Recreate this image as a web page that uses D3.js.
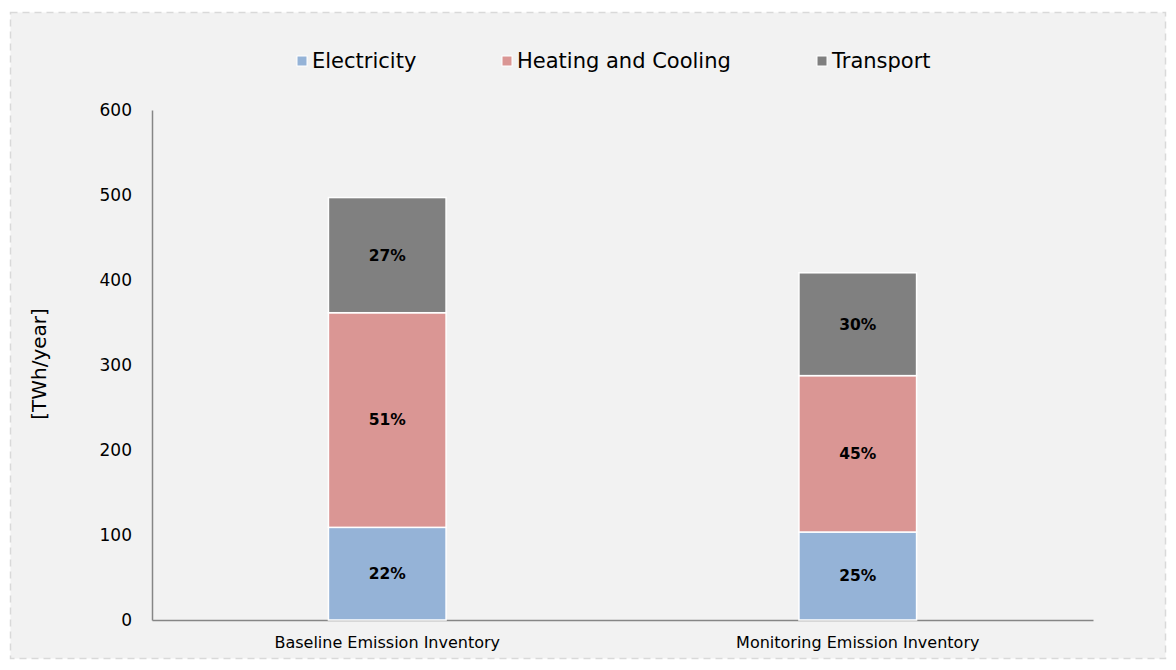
<!DOCTYPE html>
<html>
<head>
<meta charset="utf-8">
<script src="https://cdn.jsdelivr.net/npm/d3@7"></script>
<style>
  html, body { margin: 0; padding: 0; background: #ffffff; }
  svg { display: block; }
</style>
</head>
<body>
<svg id="chart" width="1176" height="670"></svg>
<script>
// Final energy consumption by sector, TWh/year
const categories = ["Baseline Emission Inventory", "Monitoring Emission Inventory"];
const seriesNames = ["Electricity", "Heating and Cooling", "Transport"];
const electricity = [109, 103.5];
const heatingCooling = [252.5, 184];
const transport = [135.5, 121];
const yTicks = [0, 100, 200, 300, 400, 500, 600];
const colors = ["#95b3d7", "#da9694", "#808080"];

const W = 1176, H = 670;
const margin = { left: 152, right: 83, top: 110, bottom: 50 };
const font = "'DejaVu Sans', Verdana, sans-serif";

const svg = d3.select("#chart");

// panel background with dashed frame
svg.append("rect")
  .attr("x", 10.5).attr("y", 12.5)
  .attr("width", W - 21).attr("height", H - 24)
  .attr("fill", "#f2f2f2")
  .attr("stroke", "#d9d9d9")
  .attr("stroke-width", 1.5)
  .attr("stroke-dasharray", "7,5");

const x = d3.scaleBand()
  .domain(categories)
  .range([margin.left, W - margin.right])
  .paddingInner(0.75)
  .paddingOuter(0.375);

const y = d3.scaleLinear()
  .domain([0, 600])
  .range([H - margin.bottom, margin.top]);

const rows = categories.map((c, i) => ({
  category: c,
  "Electricity": electricity[i],
  "Heating and Cooling": heatingCooling[i],
  "Transport": transport[i]
}));

const stacked = d3.stack().keys(seriesNames)(rows);

// y axis labels (no tick marks)
const yAxis = svg.append("g")
  .attr("transform", `translate(${margin.left},0)`)
  .call(d3.axisLeft(y).tickValues(yTicks).tickSize(0).tickPadding(20));
yAxis.select(".domain").attr("stroke", "#868686").attr("stroke-width", 1.5);
yAxis.selectAll("text")
  .attr("font-family", font)
  .attr("font-size", 17)
  .attr("fill", "#000");

// x axis
const xAxis = svg.append("g")
  .attr("transform", `translate(0,${H - margin.bottom})`)
  .call(d3.axisBottom(x).tickSize(0).tickPadding(16.5));
xAxis.select(".domain").attr("stroke", "#868686").attr("stroke-width", 1.5);
xAxis.selectAll("text")
  .attr("font-family", font)
  .attr("font-size", 16)
  .attr("fill", "#000");

// stacked bars
const layer = svg.append("g").selectAll("g")
  .data(stacked)
  .join("g")
  .attr("fill", (d, i) => colors[i]);

layer.selectAll("rect")
  .data(d => d)
  .join("rect")
  .attr("x", d => x(d.data.category))
  .attr("y", d => y(d[1]))
  .attr("width", x.bandwidth())
  .attr("height", d => y(d[0]) - y(d[1]))
  .attr("stroke", "#ffffff")
  .attr("stroke-width", 1.5);

// percentage labels
const totals = rows.map(r => seriesNames.reduce((s, k) => s + r[k], 0));
layer.selectAll("text")
  .data(d => d.map((seg, j) => ({ seg, j })))
  .join("text")
  .attr("x", d => x(d.seg.data.category) + x.bandwidth() / 2)
  .attr("y", d => y((d.seg[0] + d.seg[1]) / 2))
  .attr("dy", "0.35em")
  .attr("text-anchor", "middle")
  .attr("font-family", font)
  .attr("font-size", 15.5)
  .attr("font-weight", "bold")
  .attr("fill", "#000")
  .text(d => Math.round((d.seg[1] - d.seg[0]) / totals[d.j] * 100) + "%");

// y axis title
svg.append("text")
  .attr("transform", `translate(46,364) rotate(-90)`)
  .attr("text-anchor", "middle")
  .attr("font-family", font)
  .attr("font-size", 20)
  .attr("fill", "#000")
  .text("[TWh/year]");

// legend
const legendX = [297, 502, 817];
const legend = svg.append("g").selectAll("g")
  .data(seriesNames)
  .join("g")
  .attr("transform", (d, i) => `translate(${legendX[i]},61)`);
legend.append("rect")
  .attr("x", 0).attr("y", -5)
  .attr("width", 10).attr("height", 10)
  .attr("fill", (d, i) => colors[i])
  .attr("stroke", "#ffffff")
  .attr("stroke-width", 1);
legend.append("text")
  .attr("x", 15)
  .attr("dy", "0.35em")
  .attr("font-family", font)
  .attr("font-size", 21)
  .attr("fill", "#000")
  .text(d => d);
</script>
</body>
</html>
